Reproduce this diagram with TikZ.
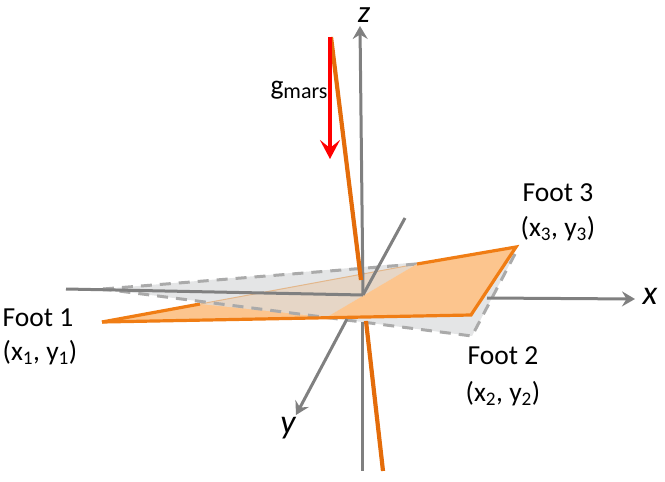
\documentclass[tikz,border=0pt]{standalone}
\usepackage{fontspec}
\setmainfont{Carlito}
\usetikzlibrary{arrows.meta}
\definecolor{axisgray}{RGB}{128,128,128}
\definecolor{dashgray}{RGB}{170,170,170}
\definecolor{planegray}{RGB}{228,229,230}
\definecolor{planeorange}{RGB}{252,197,142}
\definecolor{edgeorange}{RGB}{240,125,20}
\definecolor{stickorange}{RGB}{228,108,10}
\definecolor{mixbrown}{RGB}{230,214,198}
\tikzset{
  axisline/.style={draw=axisgray,line width=3pt},
  axisarrow/.style={axisline,-{Stealth[length=13pt,width=15pt,inset=4.5pt]}},
  grayedge/.style={draw=dashgray,line width=3pt,dash pattern=on 11pt off 8pt},
  orangeedge/.style={draw=edgeorange,line width=3.2pt,line join=miter},
  stick/.style={draw=stickorange,line width=4.2pt},
  lab/.style={font=\fontsize{27.5}{27.5}\selectfont,inner sep=0pt,text=black},
  axlab/.style={font=\fontsize{34}{34}\selectfont\itshape,inner sep=0pt,text=black}
}
\begin{document}
\begin{tikzpicture}[x=1pt,y=-1pt]
\useasboundingbox (0,0) rectangle (665,482);
% corners
\coordinate (F1) at (102,322);
\coordinate (F2) at (471,315);
\coordinate (F3) at (516,247);
\coordinate (G1) at (103,289);
\coordinate (G2) at (472,336);
\coordinate (G3) at (515,254);
\coordinate (I1) at (327,317);
\coordinate (I2) at (417,264);
\coordinate (O) at (363,295);
\coordinate (Ezt) at (360,26);
\coordinate (Ezb) at (362,322);
\coordinate (Ez) at (362,471);
\coordinate (Exl) at (66,289);
\coordinate (Exr) at (487,298);
\coordinate (Ex) at (635,299);
\coordinate (Eyt) at (405,218);
\coordinate (Eyb) at (347,319);
\coordinate (Ey) at (296,415);
\coordinate (St) at (331,37);
\coordinate (Sm) at (361,280);
\coordinate (Sb) at (366,321);
\coordinate (Se) at (383,471);
\coordinate (Rt) at (330,37);
\coordinate (Rb) at (330,159);
\coordinate (Pa) at (200,304);
% orange plane, under the grey one
\fill[planeorange] (F1) -- (F3) -- (F2) -- cycle;
\draw[orangeedge] (F1) -- (Pa);
% grey plane
\fill[planegray] (G1) -- (G3) -- (G2) -- cycle;
\fill[mixbrown] (Pa) -- (I2) -- (I1) -- cycle;
\draw[draw=planeorange!80!gray,line width=1pt] (Pa) -- (I2);
% grey plane dashes
\draw[grayedge] (G1) -- (I2);
\draw[grayedge] (G3) -- (G2) -- (G1);
% orange plane on top of the grey one
\fill[planeorange] (I1) -- (I2) -- (F3) -- (F2) -- cycle;
\draw[orangeedge] (I2) -- (F3) -- (F2) -- (F1);
% axes
\draw[axisline] (Ezb) -- (Ez);
\draw[axisarrow] (O) -- (Ezt);
\draw[axisline] (Exl) -- (O);
\draw[axisarrow] (Exr) -- (Ex);
\draw[axisline] (Eyt) -- (O);
\draw[axisarrow] (Eyb) -- (Ey);
% stick
\draw[stick] (St) -- (Sm);
\draw[stick] (Sb) -- (Se);
% gravity
\draw[draw=red,line width=4pt,-{Stealth[length=19pt,width=20pt,inset=8pt]}] (Rt) -- (Rb);
% labels
\node[axlab,font=\fontsize{31}{31}\selectfont\itshape] (lz) at (364,15) {z};
\node[axlab] (lx) at (650,296) {x};
\node[axlab] (ly) at (288,428) {y};
\node[lab] (lg) at (299,90) {g{\fontsize{22}{22}\selectfont\raisebox{-4pt}{mars}}};
\node[lab] (f1) at (38,318) {Foot 1};
\node[lab] (c1) at (40,353) {(x\textsubscript{1}, y\textsubscript{1})};
\node[lab] (f2) at (503,356) {Foot 2};
\node[lab] (c2) at (503,394) {(x\textsubscript{2}, y\textsubscript{2})};
\node[lab] (f3) at (558,193) {Foot 3};
\node[lab] (c3) at (558,229) {(x\textsubscript{3}, y\textsubscript{3})};
\end{tikzpicture}
\end{document}
